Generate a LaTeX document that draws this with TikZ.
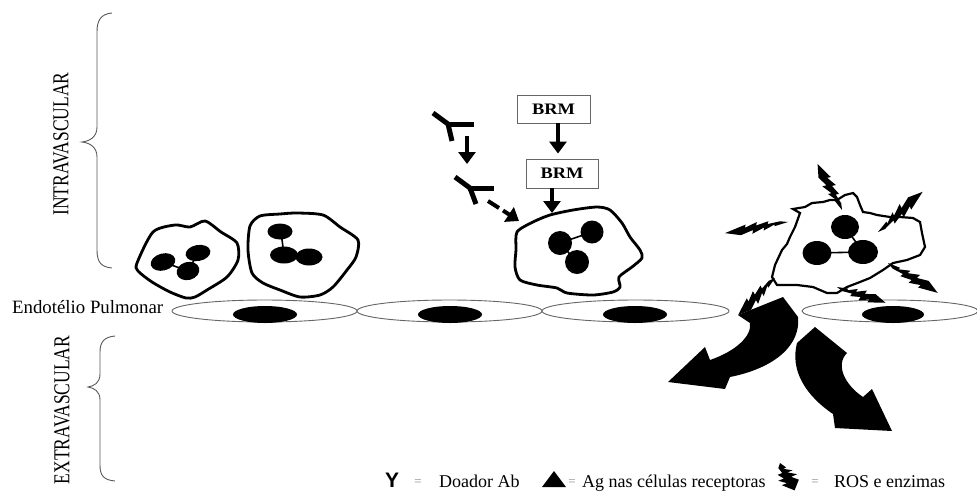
\documentclass[tikz,border=0pt]{standalone}
\usepackage{fontspec}
\usepackage{graphicx}
\setmainfont{Liberation Serif}
\newfontfamily\legendsans{Liberation Sans}
\usetikzlibrary{arrows.meta}

% lightning bolt for ROS: start point, angle, length, width factor
\newcommand{\rosbolt}[4]{%
  \fill[shift={#1}, rotate=#2, xscale=#3, yscale=#4]
    (0,0) -- (0.22,-0.03) -- (0.21,0) -- (0.40,-0.07) -- (0.38,-0.02)
    -- (0.58,-0.09) -- (0.56,-0.03) -- (0.76,-0.08) -- (1,0)
    -- (0.66,0.08) -- (0.68,0.03) -- (0.48,0.09) -- (0.50,0.035)
    -- (0.30,0.07) -- (0.32,0.025) -- (0.12,0.035) -- cycle;}

\begin{document}
\begin{tikzpicture}[x=1pt,y=-1pt,
  cellline/.style={line width=2.8pt, line join=round, fill=white},
  deadcell/.style={line width=2.2pt, line join=miter, fill=white},
  membrane/.style={draw=black!60, line width=0.9pt, fill=white},
  bracket/.style={draw=black!65, line width=0.9pt},
  link/.style={line width=1.6pt},
  blockarrow/.style={line width=4pt, -{Triangle[width=17pt,length=12pt]}},
  antibody/.style={line width=5pt},
  brmbox/.style={draw=black!60, line width=0.9pt, inner sep=0pt,
    minimum width=73pt, minimum height=28pt,
    font=\bfseries\fontsize{16}{18}\selectfont},
  sidelabel/.style={rotate=90, font=\fontsize{17.5}{20}\selectfont},
  legend/.style={font=\fontsize{18}{20}\selectfont, anchor=base west, inner sep=0pt},
  eqsign/.style={font=\fontsize{13}{14}\selectfont, text=black!45, anchor=base, inner sep=0pt},
]
\useasboundingbox (0,0) rectangle (977,491);

% ---- side braces and labels
\draw[bracket] (112,13) .. controls (101,14) and (97,20) .. (97,32) -- (97,127)
  .. controls (97,137) and (90,141) .. (82,142) .. controls (90,143) and (97,147) .. (97,157)
  -- (97,250) .. controls (97,262) and (101,267) .. (112,268);
\node[sidelabel] (intra) at (61,144) {\scalebox{1}[1.3]{INTRAVASCULAR}};

\draw[bracket] (115,336) .. controls (104,337) and (100,342) .. (100,352) -- (100,374)
  .. controls (100,383) and (94,386) .. (88,387) .. controls (94,388) and (100,391) .. (100,400)
  -- (100,465) .. controls (100,476) and (104,480) .. (115,481);
\node[sidelabel] (extra) at (62,410) {\scalebox{1}[1.3]{EXTRAVASCULAR}};

% ---- pulmonary endothelium
\node[anchor=base west, inner sep=0pt, font=\fontsize{18.8}{20}\selectfont] (endo) at (12,313) {Endotélio Pulmonar};
\draw[membrane] (264.5,311) ellipse [x radius=92.5, y radius=11];
\draw[membrane] (449.5,311) ellipse [x radius=92.5, y radius=11];
\draw[membrane] (635.5,311) ellipse [x radius=93.5, y radius=11];
\draw[membrane] (890,311) ellipse [x radius=88, y radius=11];
\fill (265,314.5) ellipse [x radius=32, y radius=8.5];
\fill (450,314.5) ellipse [x radius=32, y radius=8.5];
\fill (635,314.5) ellipse [x radius=32, y radius=8.5];
\fill (893,314.5) ellipse [x radius=31, y radius=8.5];

% ---- neutrophil 1
\draw[cellline] plot[smooth cycle, tension=0.45] coordinates {
  (137,263) (153,232) (175,225) (190,227) (205,221) (221,232) (237,243)
  (238,260) (227,277) (207,290) (195,297) (186,298) (170,292) (152,282) (138,271)};
\draw[link] (163,262) -- (188,271) -- (198,253);
\fill[rotate around={15:(163,262)}] (163,262) ellipse [x radius=12.5, y radius=8.5];
\fill[rotate around={10:(198,253)}] (198,253) ellipse [x radius=12.5, y radius=8];
\fill[rotate around={15:(188,271)}] (188,271) ellipse [x radius=11.5, y radius=9];

% ---- neutrophil 2
\draw[cellline] plot[smooth cycle, tension=0.45] coordinates {
  (250,226) (260,216) (280,214) (297,213) (323,215) (340,227) (358,240)
  (356,257) (347,270) (333,287) (320,295) (300,297) (280,290) (263,283) (252,273) (248,250)};
\draw[link] (281,232) -- (284,255) -- (308,257);
\fill (280,231.5) ellipse [x radius=12.5, y radius=8];
\fill (284,255) ellipse [x radius=14, y radius=8.5];
\fill (309,257) ellipse [x radius=13.5, y radius=8.5];

% ---- activated neutrophil
\draw[cellline] plot[smooth cycle, tension=0.45] coordinates {
  (517,232) (533,222) (550,215) (573,210) (597,207) (610,210) (622,223)
  (630,237) (640,250) (642,258) (632,267) (619,277) (620,287) (613,292)
  (593,295) (567,293) (557,288) (537,285) (520,280) (515,267) (516,250)};
\draw[link] (560,243) -- (592,232);
\draw[link] (560,243) -- (577,262);
\fill (560,243) circle [radius=12];
\fill (592,232) circle [radius=11.5];
\fill (577,262) circle [radius=12];
\coordinate (celltop) at (552,213);
\coordinate (cellside) at (519,221);

% ---- biological response modifiers
\node[brmbox] (brm1) at (553.5,109) {\scalebox{1.15}[1]{BRM}};
\node[brmbox, minimum width=72pt, minimum height=29pt] (brm2) at (562,173.5) {\scalebox{1.15}[1]{BRM}};
\draw[blockarrow, shorten >=5pt] ([xshift=4.5pt]brm1.south) -- ([xshift=-4pt]brm2.north);
\draw[blockarrow] ([xshift=-10pt]brm2.south) -- (celltop);

% ---- donor antibodies
\draw[antibody] (433,113) -- (448,124) -- (452,141);
\draw[antibody] (446,124) -- (474,124);
\coordinate (ab1) at (467,136);
\coordinate (ab2) at (467,164);
\draw[blockarrow] (ab1) -- (ab2);
\draw[antibody] (455,177) -- (470,188) -- (476,204);
\draw[antibody] (468,188) -- (494,188);
\coordinate (ab2out) at (488,201);
\coordinate (ab2dash) at (499,208);
\coordinate (ab2go) at (503,210.5);
\draw[line width=4pt] (ab2out) -- (ab2dash);
\draw[blockarrow] (ab2go) -- (cellside);

% ---- damaged neutrophil releasing ROS
\draw[deadcell] (793,209) -- (805,207) -- (812,203) -- (823,202) -- (830,200) -- (837,200)
  -- (845,195) -- (853,193) -- (857,197) -- (860,205) -- (863,212) -- (870,213)
  -- (877,215) -- (890,217) -- (900,217) -- (913,218) -- (920,222) -- (922,233)
  -- (925,247) -- (920,255) -- (907,260) -- (893,263) -- (883,270) -- (870,278)
  -- (860,282) -- (847,287) -- (837,293) -- (827,293) -- (813,287) -- (797,285)
  -- (777,285) -- (772,277) -- (775,265) -- (782,250) -- (787,244) -- (790,237)
  -- (795,227) -- (800,213) -- cycle;
\draw[link] (817,253) -- (863,252);
\draw[link] (845,227) -- (863,252);
\fill (845,227) ellipse [x radius=14, y radius=12];
\fill (817,253) ellipse [x radius=14.5, y radius=12];
\fill (863,252) ellipse [x radius=15, y radius=12];

\rosbolt{(842,210)}{118}{52}{70}
\rosbolt{(878,232)}{42}{60}{70}
\rosbolt{(788,222)}{-170}{64}{60}
\rosbolt{(888,263)}{-31}{58}{70}
\rosbolt{(837,287)}{-18}{51}{65}
\rosbolt{(775,278)}{-135}{52}{70}

% ---- injury flowing to the extravascular space
\fill (783,297) -- (798,317) .. controls (801,345) and (775,368) .. (730,377)
  -- (725,389) -- (668,382) -- (705,347) -- (710,360)
  .. controls (736,351) and (752,336) .. (750,323) -- (738,315) -- cycle;
\fill (815,327) -- (847,353) .. controls (835,365) and (845,385) .. (863,397)
  -- (872,389) -- (892,431) -- (835,428) -- (833,414)
  .. controls (805,395) and (790,370) .. (797,343) -- cycle;

% ---- legend
\node[font=\legendsans\bfseries\fontsize{21}{22}\selectfont, anchor=base, inner sep=0pt] (keyY) at (392,487.5) {Y};
\node[eqsign] (eq1) at (418,485) {=};
\node[legend] (keyab) at (439,487.5) {Doador Ab};
\fill (554,471) -- (566,487) -- (542,487) -- cycle;
\node[eqsign] (eq2) at (572,485) {=};
\node[legend] (keyag) at (582,487.5) {Ag nas células receptoras};
\rosbolt{(780,463)}{-62}{31}{110}
\node[eqsign] (eq3) at (815,485) {=};
\node[legend] (keyros) at (834,487.5) {ROS e enzimas};
\end{tikzpicture}
\end{document}
